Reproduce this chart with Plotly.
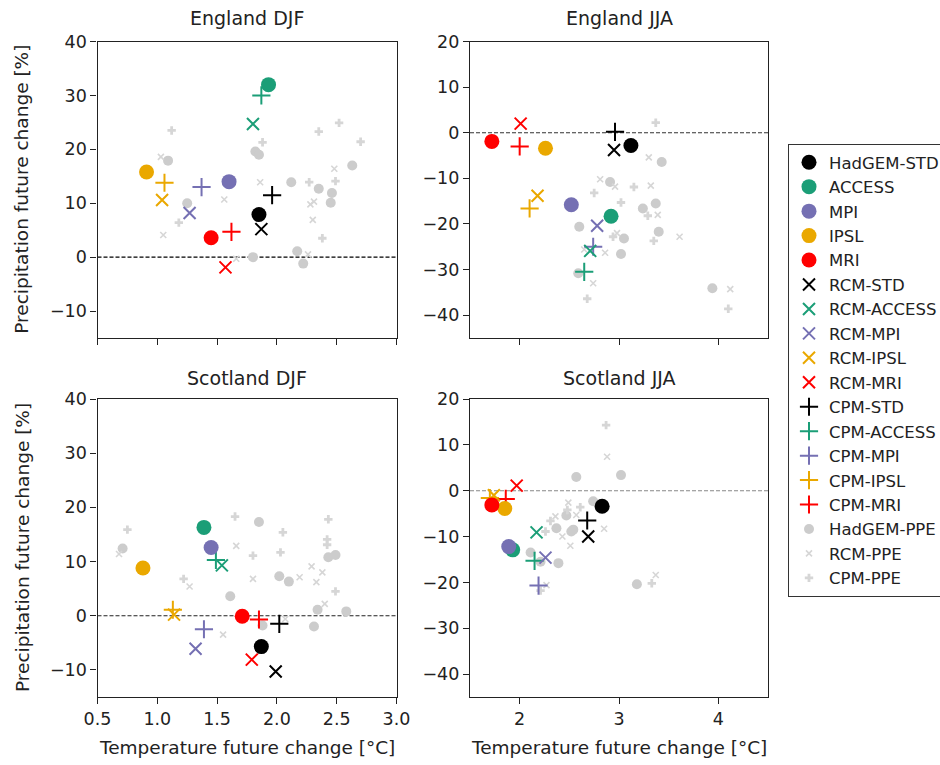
import plotly.graph_objects as go

W, H = 940, 765

# Driving-model order used for every named series
MODELS = ["STD", "ACCESS", "MPI", "IPSL", "MRI"]
GCM_NAMES = ["HadGEM-STD", "ACCESS", "MPI", "IPSL", "MRI"]
RCM_NAMES = ["RCM-STD", "RCM-ACCESS", "RCM-MPI", "RCM-IPSL", "RCM-MRI"]
CPM_NAMES = ["CPM-STD", "CPM-ACCESS", "CPM-MPI", "CPM-IPSL", "CPM-MRI"]
MODEL_COLORS = ["#000000", "#1b9e77", "#7570b3", "#eaa800", "#ff0000"]

PANEL_TITLES = ["England DJF", "England JJA", "Scotland DJF", "Scotland JJA"]

# ---- England DJF ----
ENG_DJF_GCM_X = [1.85, 1.93, 1.60, 0.91, 1.45]
ENG_DJF_GCM_Y = [7.9, 32.0, 14.0, 15.8, 3.6]
ENG_DJF_RCM_X = [1.87, 1.80, 1.27, 1.04, 1.57]
ENG_DJF_RCM_Y = [5.2, 24.7, 8.2, 10.6, -1.9]
ENG_DJF_CPM_X = [1.96, 1.87, 1.37, 1.06, 1.62]
ENG_DJF_CPM_Y = [11.5, 30.0, 13.0, 13.8, 4.7]
ENG_DJF_HPPE_X = [1.09, 1.25, 1.82, 1.85, 2.12, 2.35, 2.46, 2.45, 2.63, 1.80, 2.17, 2.22]
ENG_DJF_HPPE_Y = [17.9, 10.0, 19.6, 19.0, 13.9, 12.7, 11.9, 10.1, 17.0, 0.0, 1.1, -1.2]
ENG_DJF_RPPE_X = [1.03, 1.05, 1.56, 1.86, 2.28, 2.31, 2.30, 2.48, 2.26, 1.66]
ENG_DJF_RPPE_Y = [18.6, 4.1, 10.7, 13.9, 9.8, 10.3, 6.9, 16.4, 0.5, -0.3]
ENG_DJF_CPPE_X = [1.12, 1.18, 1.88, 2.35, 2.52, 2.70, 2.27, 2.49, 2.38]
ENG_DJF_CPPE_Y = [23.5, 6.4, 21.3, 23.3, 24.9, 21.4, 13.9, 14.1, 3.5]

# ---- England JJA ----
ENG_JJA_GCM_X = [3.12, 2.92, 2.52, 2.26, 1.72]
ENG_JJA_GCM_Y = [-2.8, -18.3, -15.8, -3.4, -1.9]
ENG_JJA_RCM_X = [2.95, 2.71, 2.78, 2.18, 2.01]
ENG_JJA_RCM_Y = [-3.8, -25.9, -20.4, -13.8, 2.0]
ENG_JJA_CPM_X = [2.96, 2.65, 2.74, 2.10, 2.00]
ENG_JJA_CPM_Y = [0.2, -30.5, -25.0, -16.6, -3.0]
ENG_JJA_HPPE_X = [2.91, 3.43, 3.24, 3.37, 3.40, 3.05, 3.02, 2.60, 2.59, 3.94]
ENG_JJA_HPPE_Y = [-10.8, -6.4, -16.6, -15.5, -21.7, -23.2, -26.6, -20.6, -30.8, -34.1]
ENG_JJA_RPPE_X = [2.81, 2.96, 3.30, 3.32, 3.39, 3.61, 2.98, 2.86, 2.74, 4.12, 2.65]
ENG_JJA_RPPE_Y = [-10.2, -11.8, -5.4, -11.6, -18.0, -22.8, -22.0, -26.3, -33.0, -34.3, -25.6]
ENG_JJA_CPPE_X = [3.37, 2.75, 3.02, 3.15, 3.29, 3.35, 2.94, 2.68, 4.10]
ENG_JJA_CPPE_Y = [2.2, -13.2, -15.3, -11.9, -18.2, -23.7, -22.8, -36.4, -38.6]

# ---- Scotland DJF ----
SCO_DJF_GCM_X = [1.87, 1.39, 1.45, 0.88, 1.71]
SCO_DJF_GCM_Y = [-5.7, 16.3, 12.6, 8.8, -0.1]
SCO_DJF_RCM_X = [1.99, 1.54, 1.32, 1.14, 1.79]
SCO_DJF_RCM_Y = [-10.3, 9.3, -6.1, 0.2, -8.1]
SCO_DJF_CPM_X = [2.02, 1.49, 1.39, 1.13, 1.85]
SCO_DJF_CPM_Y = [-1.5, 10.3, -2.5, 1.1, -0.7]
SCO_DJF_HPPE_X = [0.71, 1.85, 1.61, 2.02, 2.10, 2.43, 2.49, 2.34, 2.58, 2.31, 1.88]
SCO_DJF_HPPE_Y = [12.4, 17.3, 3.6, 7.3, 6.3, 10.8, 11.2, 1.1, 0.8, -2.0, -1.8]
SCO_DJF_RPPE_X = [0.68, 1.27, 1.66, 1.80, 2.19, 2.29, 2.33, 2.38, 2.40, 1.55, 2.07]
SCO_DJF_RPPE_Y = [11.4, 5.4, 12.9, 6.8, 7.1, 9.1, 6.2, 8.0, 2.2, -3.5, -0.6]
SCO_DJF_CPPE_X = [0.75, 1.22, 1.65, 1.80, 2.05, 2.03, 2.43, 2.42, 2.42, 2.49]
SCO_DJF_CPPE_Y = [15.9, 6.8, 18.3, 11.1, 15.4, 11.7, 17.8, 14.1, 13.1, 4.5]

# ---- Scotland JJA ----
SCO_JJA_GCM_X = [2.83, 1.93, 1.89, 1.85, 1.72]
SCO_JJA_GCM_Y = [-3.4, -12.9, -12.2, -3.9, -3.1]
SCO_JJA_RCM_X = [2.69, 2.17, 2.26, 1.74, 1.97]
SCO_JJA_RCM_Y = [-10.0, -9.1, -14.6, -1.0, 1.1]
SCO_JJA_CPM_X = [2.68, 2.15, 2.19, 1.70, 1.86]
SCO_JJA_CPM_Y = [-6.5, -15.3, -20.7, -1.6, -1.8]
SCO_JJA_HPPE_X = [2.57, 3.02, 2.47, 2.37, 2.52, 2.54, 2.11, 2.39, 3.18, 2.74, 2.21]
SCO_JJA_HPPE_Y = [3.0, 3.4, -5.4, -8.2, -8.9, -8.5, -13.5, -15.8, -20.4, -2.3, -15.5]
SCO_JJA_RPPE_X = [2.88, 2.49, 2.36, 2.57, 2.85, 2.51, 2.27, 3.37, 2.43]
SCO_JJA_RPPE_Y = [7.4, -2.6, -5.6, -5.3, -8.3, -12.0, -20.6, -18.4, -10.0]
SCO_JJA_CPPE_X = [2.87, 2.61, 2.31, 2.26, 3.33, 2.21, 2.48]
SCO_JJA_CPPE_Y = [14.3, -3.6, -6.6, -8.9, -20.2, -21.8, -4.2]

PANELS = [
    dict(gcm=(ENG_DJF_GCM_X, ENG_DJF_GCM_Y), rcm=(ENG_DJF_RCM_X, ENG_DJF_RCM_Y),
         cpm=(ENG_DJF_CPM_X, ENG_DJF_CPM_Y), hppe=(ENG_DJF_HPPE_X, ENG_DJF_HPPE_Y),
         rppe=(ENG_DJF_RPPE_X, ENG_DJF_RPPE_Y), cppe=(ENG_DJF_CPPE_X, ENG_DJF_CPPE_Y)),
    dict(gcm=(ENG_JJA_GCM_X, ENG_JJA_GCM_Y), rcm=(ENG_JJA_RCM_X, ENG_JJA_RCM_Y),
         cpm=(ENG_JJA_CPM_X, ENG_JJA_CPM_Y), hppe=(ENG_JJA_HPPE_X, ENG_JJA_HPPE_Y),
         rppe=(ENG_JJA_RPPE_X, ENG_JJA_RPPE_Y), cppe=(ENG_JJA_CPPE_X, ENG_JJA_CPPE_Y)),
    dict(gcm=(SCO_DJF_GCM_X, SCO_DJF_GCM_Y), rcm=(SCO_DJF_RCM_X, SCO_DJF_RCM_Y),
         cpm=(SCO_DJF_CPM_X, SCO_DJF_CPM_Y), hppe=(SCO_DJF_HPPE_X, SCO_DJF_HPPE_Y),
         rppe=(SCO_DJF_RPPE_X, SCO_DJF_RPPE_Y), cppe=(SCO_DJF_CPPE_X, SCO_DJF_CPPE_Y)),
    dict(gcm=(SCO_JJA_GCM_X, SCO_JJA_GCM_Y), rcm=(SCO_JJA_RCM_X, SCO_JJA_RCM_Y),
         cpm=(SCO_JJA_CPM_X, SCO_JJA_CPM_Y), hppe=(SCO_JJA_HPPE_X, SCO_JJA_HPPE_Y),
         rppe=(SCO_JJA_RPPE_X, SCO_JJA_RPPE_Y), cppe=(SCO_JJA_CPPE_X, SCO_JJA_CPPE_Y)),
]

FONT = "DejaVu Sans"
TEXT = "#222222"
PPE_CIRCLE = "#cccccc"
PPE_MARK = "#d6d6d6"

# Panel boxes in pixels (left, right, top, bottom)
BOXES = [(97.5, 396.5, 41.5, 338), (470, 768, 41.5, 338),
         (97.5, 396.5, 399, 697), (470, 768, 399, 697)]
X_RANGES = [[0.5, 3.0], [1.5, 4.5], [0.5, 3.0], [1.5, 4.5]]
Y_RANGES = [[-15, 40], [-45, 20], [-15, 40], [-45, 20]]
ZERO_COLORS = ["#000000", "#333333", "#222222", "#888888"]

fig = go.Figure()

# PPE clouds drawn first so the named runs sit on top of them
for p, panel in enumerate(PANELS):
    xa = "x" if p == 0 else f"x{p + 1}"
    ya = "y" if p == 0 else f"y{p + 1}"
    show = p == 0
    ppe_specs = [
        ("hppe", "HadGEM-PPE", dict(symbol="circle", size=10, color=PPE_CIRCLE), 16),
        ("rppe", "RCM-PPE", dict(symbol="x-thin", size=6, color=PPE_MARK,
                                  line=dict(color=PPE_MARK, width=1.6)), 17),
        ("cppe", "CPM-PPE", dict(symbol="cross", size=7, color=PPE_MARK,
                                  line=dict(width=0)), 18),
    ]
    for key, name, marker, rank in ppe_specs:
        xs, ys = panel[key]
        fig.add_trace(go.Scatter(x=xs, y=ys, mode="markers", name=name, marker=marker,
                                 xaxis=xa, yaxis=ya, showlegend=show,
                                 legendgroup=name, legendrank=rank))
    groups = [
        ("cpm", CPM_NAMES, "cross-thin", 13, 11),
        ("rcm", RCM_NAMES, "x-thin", 12, 6),
        ("gcm", GCM_NAMES, "circle", 15, 1),
    ]
    for key, names, symbol, size, rank0 in groups:
        xs, ys = panel[key]
        for i, m in enumerate(MODELS):
            c = MODEL_COLORS[i]
            if symbol == "circle":
                marker = dict(symbol=symbol, size=size, color=c, line=dict(width=0))
            else:
                marker = dict(symbol=symbol, size=size, color=c, line=dict(color=c, width=2))
            fig.add_trace(go.Scatter(x=[xs[i]], y=[ys[i]], mode="markers", name=names[i],
                                     marker=marker, xaxis=xa, yaxis=ya, showlegend=show,
                                     legendgroup=names[i], legendrank=rank0 + i))

axis_font = dict(family=FONT, size=17.5, color=TEXT)
layout = {}
for p in range(4):
    l, r, t, b = BOXES[p]
    xkey = "xaxis" if p == 0 else f"xaxis{p + 1}"
    ykey = "yaxis" if p == 0 else f"yaxis{p + 1}"
    yref = "y" if p == 0 else f"y{p + 1}"
    bottom_row = p >= 2
    left_col = p % 2 == 0
    xaxis = dict(domain=[l / W, r / W], range=X_RANGES[p], anchor=yref,
                 showgrid=False, zeroline=False, showline=True, mirror=True,
                 linecolor=TEXT, linewidth=1.2, ticks="outside", ticklen=6,
                 tickcolor=TEXT, tickwidth=1.2, tickfont=axis_font,
                 showticklabels=bottom_row)
    if left_col:
        xaxis.update(tickvals=[0.5, 1.0, 1.5, 2.0, 2.5, 3.0], tickformat=".1f")
    else:
        xaxis.update(tickvals=[2, 3, 4])
    yaxis = dict(domain=[1 - b / H, 1 - t / H], range=Y_RANGES[p],
                 anchor="x" if p == 0 else f"x{p + 1}",
                 showgrid=False, zeroline=False, showline=True, mirror=True,
                 linecolor=TEXT, linewidth=1.2, ticks="outside", ticklen=6,
                 tickcolor=TEXT, tickwidth=1.2, tickfont=axis_font,
                 tickvals=list(range(-40, 41, 10)))
    layout[xkey] = xaxis
    layout[ykey] = yaxis

shapes = []
for p in range(4):
    xref = "x domain" if p == 0 else f"x{p + 1} domain"
    yref = "y" if p == 0 else f"y{p + 1}"
    shapes.append(dict(type="line", xref=xref, yref=yref, x0=0, x1=1, y0=0, y1=0,
                       line=dict(color=ZERO_COLORS[p], width=1.1, dash="4px,2px"),
                       layer="below"))

annotations = []
title_y = [18, 18, 378, 378]
for p in range(4):
    l, r, t, b = BOXES[p]
    annotations.append(dict(text=PANEL_TITLES[p], xref="paper", yref="paper",
                            x=(l + r) / 2 / W, y=1 - title_y[p] / H, showarrow=False,
                            xanchor="center", yanchor="middle",
                            font=dict(family=FONT, size=19, color=TEXT)))
for yc in [(41.5 + 338) / 2, (399 + 697) / 2]:
    annotations.append(dict(text="Precipitation future change [%]", xref="paper",
                            yref="paper", x=22 / W, y=1 - yc / H, showarrow=False,
                            textangle=-90, xanchor="center", yanchor="middle",
                            font=dict(family=FONT, size=18.5, color=TEXT)))
for xc in [(97.5 + 396.5) / 2, (470 + 768) / 2]:
    annotations.append(dict(text="Temperature future change [°C]", xref="paper",
                            yref="paper", x=xc / W, y=1 - 747 / H, showarrow=False,
                            xanchor="center", yanchor="middle",
                            font=dict(family=FONT, size=18.5, color=TEXT)))

fig.update_layout(
    width=W, height=H,
    margin=dict(l=0, r=0, t=0, b=0, autoexpand=False),
    paper_bgcolor="white", plot_bgcolor="white",
    font=dict(family=FONT, size=16, color=TEXT),
    shapes=shapes, annotations=annotations,
    legend=dict(x=788 / W, y=1 - 144 / H, xanchor="left", yanchor="top",
                bordercolor="#333333", borderwidth=1, bgcolor="white",
                font=dict(family=FONT, size=16.5, color=TEXT),
                traceorder="grouped", tracegroupgap=0, itemwidth=30),
    **layout,
)

fig.write_html("out.html")
